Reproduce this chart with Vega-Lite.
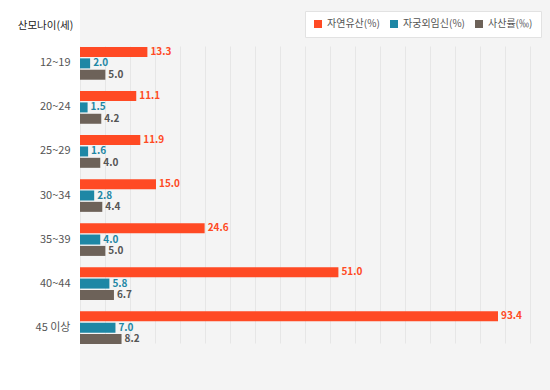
{
  "$schema": "https://vega.github.io/schema/vega-lite/v6.json",
  "width": 470,
  "height": 390,
  "autosize": {"type": "none"},
  "padding": {"left": 80, "top": 0, "right": 0, "bottom": 0},
  "background": "#ffffff",
  "config": {
    "view": {"fill": "#f4f4f4", "stroke": null},
    "font": "Noto Sans CJK KR"
  },
  "data": {
    "values": [
      {"age": "12~19", "series": "자연유산(%)", "value": 13.3},
      {"age": "12~19", "series": "자궁외임신(%)", "value": 2.0},
      {"age": "12~19", "series": "사산률(‰)", "value": 5.0},
      {"age": "20~24", "series": "자연유산(%)", "value": 11.1},
      {"age": "20~24", "series": "자궁외임신(%)", "value": 1.5},
      {"age": "20~24", "series": "사산률(‰)", "value": 4.2},
      {"age": "25~29", "series": "자연유산(%)", "value": 11.9},
      {"age": "25~29", "series": "자궁외임신(%)", "value": 1.6},
      {"age": "25~29", "series": "사산률(‰)", "value": 4.0},
      {"age": "30~34", "series": "자연유산(%)", "value": 15.0},
      {"age": "30~34", "series": "자궁외임신(%)", "value": 2.8},
      {"age": "30~34", "series": "사산률(‰)", "value": 4.4},
      {"age": "35~39", "series": "자연유산(%)", "value": 24.6},
      {"age": "35~39", "series": "자궁외임신(%)", "value": 4.0},
      {"age": "35~39", "series": "사산률(‰)", "value": 5.0},
      {"age": "40~44", "series": "자연유산(%)", "value": 51.0},
      {"age": "40~44", "series": "자궁외임신(%)", "value": 5.8},
      {"age": "40~44", "series": "사산률(‰)", "value": 6.7},
      {"age": "45 이상", "series": "자연유산(%)", "value": 93.4},
      {"age": "45 이상", "series": "자궁외임신(%)", "value": 7.0},
      {"age": "45 이상", "series": "사산률(‰)", "value": 8.2}
    ]
  },
  "encoding": {
    "y": {
      "field": "age",
      "type": "nominal",
      "sort": null,
      "scale": {"range": [47, 344], "paddingInner": 0.257, "paddingOuter": 0},
      "axis": {
        "domain": false,
        "ticks": false,
        "labelPadding": 10,
        "labelFontSize": 11,
        "labelColor": "#555555",
        "title": "산모나이(세)",
        "titleAngle": 0,
        "titleX": -35,
        "titleY": 25,
        "titleAlign": "center",
        "titleBaseline": "middle",
        "titleFontSize": 10.5,
        "titleFontWeight": "normal",
        "titleColor": "#222222"
      }
    },
    "yOffset": {
      "field": "series",
      "type": "nominal",
      "sort": ["자연유산(%)", "자궁외임신(%)", "사산률(‰)"],
      "scale": {"paddingInner": 0.12, "paddingOuter": 0}
    }
  },
  "layer": [
    {
      "mark": {"type": "tick", "opacity": 0},
      "encoding": {
        "x": {
          "field": "value",
          "type": "quantitative",
          "scale": {"domain": [0, 94]},
          "axis": {
            "values": [0, 5, 10, 15, 20, 25, 30, 35, 40, 45, 50, 55, 60, 65, 70, 75, 80, 85, 90],
            "grid": true,
            "gridColor": "#e6e6e6",
            "labels": false,
            "ticks": false,
            "domain": false,
            "title": null
          }
        }
      }
    },
    {
      "mark": {"type": "bar"},
      "encoding": {
        "x": {
          "field": "value",
          "type": "quantitative",
          "scale": {"domain": [0, 82.5], "range": [0, 418], "clamp": true},
          "axis": null
        },
        "color": {
          "field": "series",
          "type": "nominal",
          "scale": {
            "domain": ["자연유산(%)", "자궁외임신(%)", "사산률(‰)"],
            "range": ["#ff4a24", "#1e87a5", "#6d6259"]
          },
          "legend": {
            "orient": "none",
            "legendX": 225,
            "legendY": 11,
            "direction": "horizontal",
            "title": null,
            "symbolType": "square",
            "symbolSize": 64,
            "symbolStrokeWidth": 0,
            "labelFontSize": 10,
            "labelColor": "#555555",
            "labelOffset": 4,
            "columnPadding": 9,
            "padding": 8,
            "fillColor": "#ffffff",
            "strokeColor": "#e2e2e2"
          }
        }
      }
    },
    {
      "mark": {"type": "text", "align": "left", "baseline": "middle", "dx": 3, "fontWeight": "bold", "fontSize": 10},
      "encoding": {
        "x": {
          "field": "value",
          "type": "quantitative",
          "scale": {"domain": [0, 82.5], "range": [0, 418], "clamp": true},
          "axis": null
        },
        "text": {"field": "value", "type": "quantitative", "format": ".1f"},
        "color": {
          "field": "series",
          "type": "nominal",
          "scale": {
            "domain": ["자연유산(%)", "자궁외임신(%)", "사산률(‰)"],
            "range": ["#ff4a24", "#1e87a5", "#555555"]
          },
          "legend": null
        }
      }
    }
  ],
  "resolve": {"scale": {"x": "independent", "color": "independent"}}
}
